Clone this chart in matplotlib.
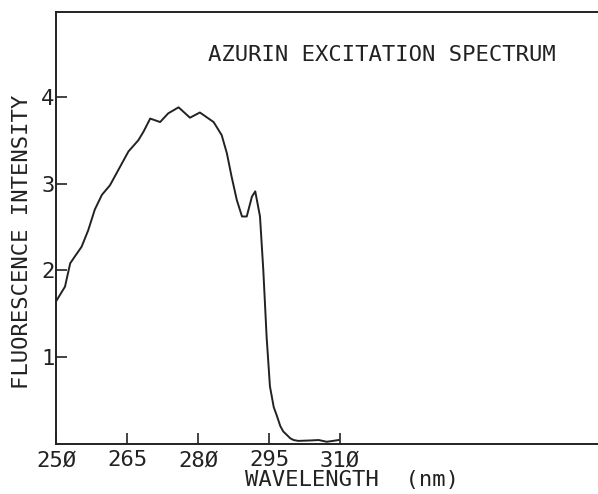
import matplotlib
matplotlib.use('Agg')
import matplotlib.pyplot as plt


OUTPUT_FILE = 'out.png'
FONT = 'DejaVu Sans Mono'
INK = '#222222'

WAVELENGTH = [250.0, 251.9, 253.0, 254.0, 255.4, 256.8, 258.2, 259.7, 261.4,
              263.5, 265.3, 267.4, 268.5, 269.9, 272.0, 273.7, 275.9, 278.3,
              280.4, 283.3, 285.0, 286.1, 287.1, 288.2, 289.3, 290.3, 291.4,
              292.1, 293.1, 293.8, 294.5, 295.2, 296.0, 296.6, 297.4, 298.0,
              299.5, 300.2, 301.2, 303.7, 305.5, 307.2, 308.5, 309.7]
INTENSITY = [1.64, 1.81, 2.08, 2.16, 2.27, 2.46, 2.70, 2.87, 2.98,
             3.19, 3.37, 3.50, 3.60, 3.75, 3.71, 3.81, 3.88, 3.76,
             3.82, 3.71, 3.56, 3.35, 3.08, 2.81, 2.62, 2.62, 2.85,
             2.91, 2.62, 2.00, 1.23, 0.66, 0.42, 0.33, 0.20, 0.14,
             0.06, 0.04, 0.03, 0.035, 0.04, 0.02, 0.03, 0.04]

X_TICKS = [250, 265, 280, 295, 310]
X_TICK_LABELS = ['25Ø', '265', '28Ø', '295', '31Ø']
Y_TICKS = [1, 2, 3, 4]
Y_TICK_LABELS = ['1', '2', '3', '4']

TITLE = 'AZURIN EXCITATION SPECTRUM'
X_LABEL = 'WAVELENGTH  (nm)'
Y_LABEL = 'FLUORESCENCE INTENSITY'


def main():
    fig = plt.figure(figsize=(5.98, 4.94), dpi=100)
    # axes runs off the right edge of the page, as in the scan
    ax = fig.add_axes([56 / 598, 50.5 / 494, 542 / 598, 431.5 / 494])

    ax.plot(WAVELENGTH, INTENSITY, color=INK, linewidth=1.4)

    ax.set_xlim(250, 250 + 542 / 4.733)
    ax.set_ylim(0, 4.98)

    for side in ('left', 'bottom', 'top'):
        ax.spines[side].set_color(INK)
        ax.spines[side].set_linewidth(1.4)
    ax.spines['right'].set_visible(False)

    ax.set_xticks(X_TICKS)
    ax.set_xticklabels(X_TICK_LABELS)
    ax.set_yticks(Y_TICKS)
    ax.set_yticklabels(Y_TICK_LABELS)
    ax.tick_params(direction='in', length=8, width=1.2, color=INK,
                   labelcolor=INK, labelsize=16)
    ax.tick_params(axis='x', pad=5)
    ax.tick_params(axis='y', pad=1)
    for label in ax.get_xticklabels() + ax.get_yticklabels():
        label.set_fontfamily(FONT)

    fig.text(382 / 598, 1 - 55 / 494, TITLE, fontsize=16, family=FONT,
             color=INK, ha='center', va='center')
    fig.text(352 / 598, 1 - 480 / 494, X_LABEL, fontsize=16, family=FONT,
             color=INK, ha='center', va='center')
    fig.text(22 / 598, 1 - 242 / 494, Y_LABEL, fontsize=16, family=FONT,
             color=INK, ha='center', va='center', rotation=90)

    fig.savefig(OUTPUT_FILE, dpi=100)


if __name__ == '__main__':
    main()
